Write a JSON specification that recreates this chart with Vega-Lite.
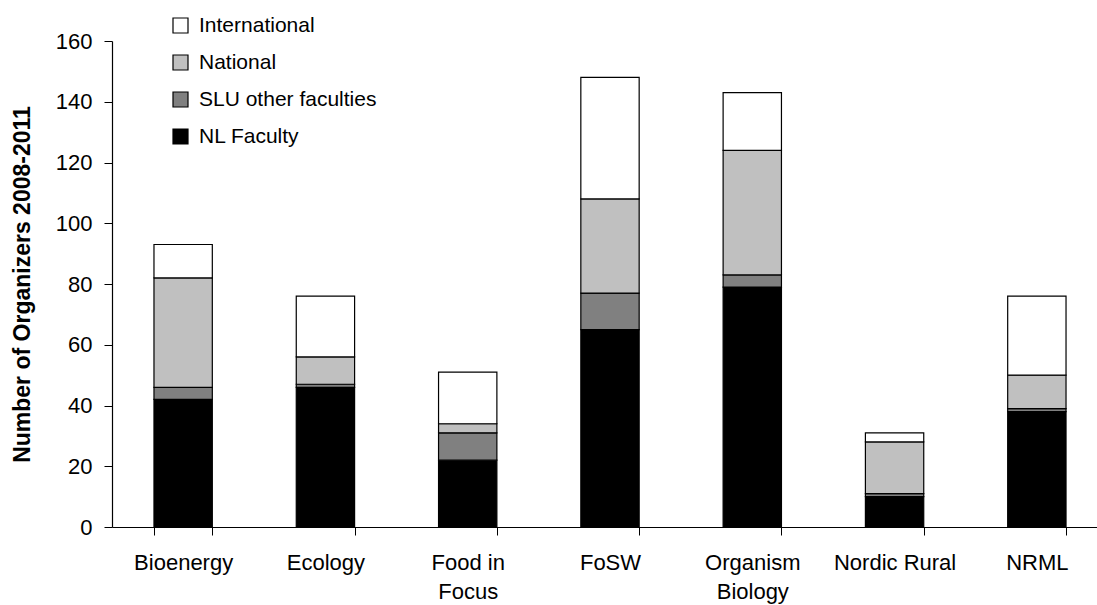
{
  "$schema": "https://vega.github.io/schema/vega-lite/v6.json",
  "width": 985,
  "height": 486,
  "autosize": {"type": "none"},
  "padding": {"left": 112, "top": 41, "right": 0, "bottom": 78},
  "background": "white",
  "config": {
    "view": {"stroke": null},
    "font": "Liberation Sans",
    "axis": {"labelFont": "Liberation Sans", "titleFont": "Liberation Sans", "labelColor": "black", "titleColor": "black", "domainColor": "black", "tickColor": "black"},
    "legend": {"labelFont": "Liberation Sans"}
  },
  "data": {
    "values": [
      {"program": "Bioenergy", "group": "NL Faculty", "rank": 1, "n": 42},
      {"program": "Bioenergy", "group": "SLU other faculties", "rank": 2, "n": 4},
      {"program": "Bioenergy", "group": "National", "rank": 3, "n": 36},
      {"program": "Bioenergy", "group": "International", "rank": 4, "n": 11},
      {"program": "Ecology", "group": "NL Faculty", "rank": 1, "n": 46},
      {"program": "Ecology", "group": "SLU other faculties", "rank": 2, "n": 1},
      {"program": "Ecology", "group": "National", "rank": 3, "n": 9},
      {"program": "Ecology", "group": "International", "rank": 4, "n": 20},
      {"program": "Food in Focus", "group": "NL Faculty", "rank": 1, "n": 22},
      {"program": "Food in Focus", "group": "SLU other faculties", "rank": 2, "n": 9},
      {"program": "Food in Focus", "group": "National", "rank": 3, "n": 3},
      {"program": "Food in Focus", "group": "International", "rank": 4, "n": 17},
      {"program": "FoSW", "group": "NL Faculty", "rank": 1, "n": 65},
      {"program": "FoSW", "group": "SLU other faculties", "rank": 2, "n": 12},
      {"program": "FoSW", "group": "National", "rank": 3, "n": 31},
      {"program": "FoSW", "group": "International", "rank": 4, "n": 40},
      {"program": "Organism Biology", "group": "NL Faculty", "rank": 1, "n": 79},
      {"program": "Organism Biology", "group": "SLU other faculties", "rank": 2, "n": 4},
      {"program": "Organism Biology", "group": "National", "rank": 3, "n": 41},
      {"program": "Organism Biology", "group": "International", "rank": 4, "n": 19},
      {"program": "Nordic Rural", "group": "NL Faculty", "rank": 1, "n": 10},
      {"program": "Nordic Rural", "group": "SLU other faculties", "rank": 2, "n": 1},
      {"program": "Nordic Rural", "group": "National", "rank": 3, "n": 17},
      {"program": "Nordic Rural", "group": "International", "rank": 4, "n": 3},
      {"program": "NRML", "group": "NL Faculty", "rank": 1, "n": 38},
      {"program": "NRML", "group": "SLU other faculties", "rank": 2, "n": 1},
      {"program": "NRML", "group": "National", "rank": 3, "n": 11},
      {"program": "NRML", "group": "International", "rank": 4, "n": 26}
    ]
  },
  "mark": {"type": "bar", "stroke": "black", "strokeWidth": 1.2, "opacity": 1},
  "encoding": {
    "x": {
      "field": "program",
      "type": "nominal",
      "sort": null,
      "scale": {"range": [0, 996], "paddingInner": 0.59, "paddingOuter": 0.295},
      "axis": {
        "title": null,
        "labelAngle": 0,
        "labelFontSize": 22,
        "labelPadding": 17,
        "labelLineHeight": 29,
        "labelBaseline": "top",
        "tickBand": "extent",
        "tickSize": 8,
        "domainWidth": 1.2,
        "labelExpr": "datum.value == 'Food in Focus' ? ['Food in', 'Focus'] : datum.value == 'Organism Biology' ? ['Organism', 'Biology'] : datum.value"
      }
    },
    "y": {
      "field": "n",
      "type": "quantitative",
      "stack": "zero",
      "scale": {"domain": [0, 160], "nice": false},
      "axis": {
        "title": "Number of Organizers 2008-2011",
        "values": [0, 20, 40, 60, 80, 100, 120, 140, 160],
        "grid": false,
        "tickSize": 8,
        "labelFontSize": 22,
        "labelPadding": 12,
        "domainWidth": 1.2,
        "titleFontSize": 23,
        "titleFontWeight": "bold",
        "titleX": -90,
        "titleY": 243,
        "titleAngle": -90,
        "titleAlign": "center",
        "titleBaseline": "middle"
      }
    },
    "color": {
      "field": "group",
      "type": "nominal",
      "scale": {
        "domain": ["International", "National", "SLU other faculties", "NL Faculty"],
        "range": ["#ffffff", "#c0c0c0", "#808080", "#000000"]
      },
      "legend": {
        "title": null,
        "orient": "none",
        "legendX": 58,
        "legendY": -26,
        "symbolType": "square",
        "symbolSize": 225,
        "symbolStrokeColor": "black",
        "symbolStrokeWidth": 1.2,
        "symbolOpacity": 1,
        "labelFontSize": 21,
        "labelLimit": 400,
        "labelColor": "black",
        "labelOffset": 8,
        "rowPadding": 15
      }
    },
    "order": {"field": "rank", "type": "quantitative"}
  }
}
